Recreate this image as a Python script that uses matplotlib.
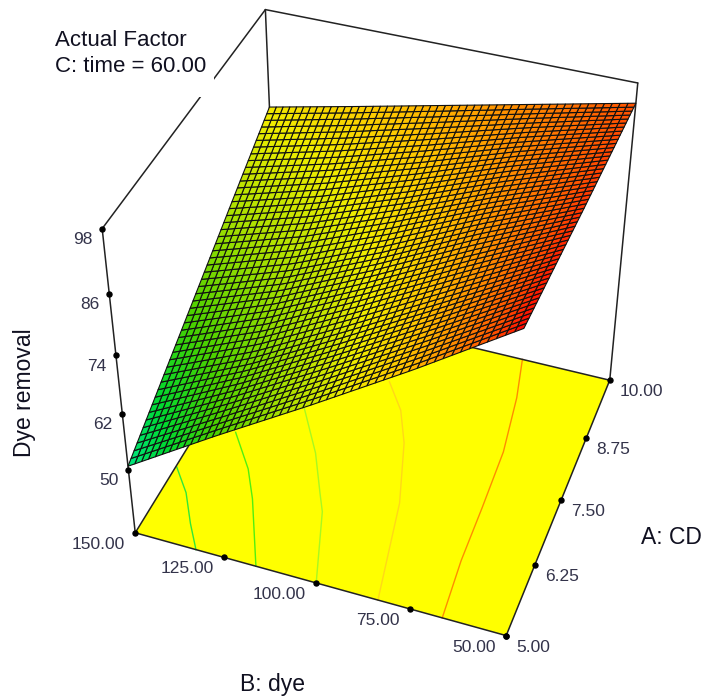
import numpy as np
import matplotlib
matplotlib.use("Agg")
import matplotlib.pyplot as plt
from matplotlib.collections import PolyCollection
from matplotlib.colors import LinearSegmentedColormap
from matplotlib.patches import Rectangle

plt.rcParams["font.family"] = ["Liberation Sans", "DejaVu Sans"]

A_TICKS = [5.00, 6.25, 7.50, 8.75, 10.00]
B_TICKS = [150.00, 125.00, 100.00, 75.00, 50.00]
Z_TICKS = [50, 62, 74, 86, 98]
Z_FLOOR = 35.8

# response, rows follow B_NODES, columns follow A_NODES
A_NODES = [5.00, 6.25, 7.50, 8.75, 10.00]
B_NODES = [50.00, 75.00, 100.00, 125.00, 150.00]
Y_TABLE = [
    [97.8, 96.8, 95.8, 95.0, 94.2],
    [85.5, 86.3, 87.8, 89.2, 90.3],
    [73.8, 76.0, 79.0, 82.7, 86.4],
    [62.5, 66.0, 71.0, 76.8, 82.5],
    [50.8, 57.8, 64.8, 71.8, 78.7],
]

# floor contours as (A, B)
C1_A = [6.3, 5.9, 5.4, 5.0]
C1_B = [149.7, 143.5, 137.9, 132.9]
C2_A = [7.2, 6.6, 6.1, 5.0]
C2_B = [140.1, 131.5, 126.2, 116.3]
C3_A = [8.0, 7.2, 6.5, 6.2, 5.0]
C3_B = [126.3, 116.8, 110.2, 107.3, 99.9]
C4_A = [8.9, 8.4, 7.8, 6.7, 5.2, 5.0]
C4_B = [107.6, 100.8, 95.7, 89.4, 84.1, 83.4]
C5_A = [10.0, 9.2, 8.1, 7.0, 6.0, 5.0]
C5_B = [75.4, 72.3, 69.5, 68.6, 68.0, 66.5]
CONTOURS = [(C1_A, C1_B, "#30e838"), (C2_A, C2_B, "#50f010"), (C3_A, C3_B, "#a8f820"),
            (C4_A, C4_B, "#ffd818"), (C5_A, C5_B, "#ff8c00")]

# camera calibration: box points and where they land in the image, corners counted twice
CALIB = [
    (5, 150, Z_FLOOR, 135, 535), (5, 50, Z_FLOOR, 506, 633), (10, 50, Z_FLOOR, 610, 377),
    (5, 150, Z_FLOOR, 135, 535), (5, 50, Z_FLOOR, 506, 633), (10, 50, Z_FLOOR, 610, 377),
    (5, 150, 98, 101, 233), (10, 150, 98, 266, 11), (10, 50, 98, 639, 82),
    (5, 150, 98, 101, 233), (10, 150, 98, 266, 11), (10, 50, 98, 639, 82),
    (5, 150, 50, 127, 466), (5, 150, 86, 109, 291),
    (5, 150, 74, 115, 349), (5, 150, 62, 121, 408), (5, 125, Z_FLOOR, 227, 560),
    (5, 100, Z_FLOOR, 320, 584), (5, 75, Z_FLOOR, 414, 609), (6.25, 50, Z_FLOOR, 532, 569),
    (7.5, 50, Z_FLOOR, 558, 505), (8.75, 50, Z_FLOOR, 584, 441),
]


def norm(a, b, z):
    return [(a - 5) / 5, (b - 50) / 100, (z - 36) / 62, 1.0]


rows = []
for a, b, z, u, v in CALIB:
    p = norm(a, b, z)
    u, v = u / 700, v / 700
    rows.append(p + [0, 0, 0, 0] + [-u * c for c in p])
    rows.append([0, 0, 0, 0] + p + [-v * c for c in p])
P = np.linalg.svd(np.array(rows))[2][-1].reshape(3, 4)


def project(a, b, z):
    a, b, z = np.asarray(a, float), np.asarray(b, float), np.asarray(z, float)
    q = np.stack([(a - 5) / 5, (b - 50) / 100, (z - 36) / 62, np.ones_like(a)], axis=-1)
    w = q @ P.T
    return 700 * w[..., 0] / w[..., 2], 700 * w[..., 1] / w[..., 2]


cmap = LinearSegmentedColormap.from_list("de", [
    (0.00, "#00e890"), (0.125, "#00d830"), (0.25, "#48d000"), (0.42, "#a8e000"),
    (0.58, "#f0ec00"), (0.71, "#ffc400"), (0.83, "#ff8800"), (0.92, "#ff5400"), (1.00, "#ff0000"),
])

fig = plt.figure(figsize=(7.04, 6.98), dpi=100)
ax = fig.add_axes([0, 0, 1, 1])
ax.set_xlim(0, 704)
ax.set_ylim(698, 0)
ax.axis("off")

LINE = "#222222"
LW = 1.1


def edge(p0, p1, zorder=2, color=LINE, lw=LW):
    x, y = project([p0[0], p1[0]], [p0[1], p1[1]], [p0[2], p1[2]])
    ax.plot(x, y, color=color, lw=lw, zorder=zorder, solid_capstyle="round")


# floor
fx, fy = project([5, 5, 10, 10], [150, 50, 50, 150], [Z_FLOOR] * 4)
ax.fill(fx, fy, color="#ffff00", lw=0, zorder=1)
for ca, cb, col in CONTOURS:
    x, y = project(ca, cb, [Z_FLOOR] * len(ca))
    ax.plot(x, y, color=col, lw=1.0, zorder=1.5)

# box
edge((5, 150, Z_FLOOR), (5, 50, Z_FLOOR))
edge((5, 50, Z_FLOOR), (10, 50, Z_FLOOR))
edge((10, 50, Z_FLOOR), (10, 150, Z_FLOOR))
edge((10, 150, Z_FLOOR), (5, 150, Z_FLOOR))
edge((5, 150, Z_FLOOR), (5, 150, 98))
edge((10, 50, Z_FLOOR), (10, 50, 98))
edge((10, 150, Z_FLOOR), (10, 150, 98))
edge((5, 150, 98), (10, 150, 98))
edge((10, 150, 98), (10, 50, 98))

# surface, the read table is subdivided only to lay the drawn mesh over it
n_a, n_b = 50, 50
a_mesh = np.linspace(A_NODES[0], A_NODES[-1], n_a + 1)
b_mesh = np.linspace(B_NODES[0], B_NODES[-1], n_b + 1)
table = np.array(Y_TABLE)
by_a = np.array([np.interp(a_mesh, A_NODES, row) for row in table])
y_mesh = np.array([np.interp(b_mesh, B_NODES, by_a[:, i]) for i in range(n_a + 1)]).T
aa, bb = np.meshgrid(a_mesh, b_mesh)
sx, sy = project(aa, bb, y_mesh)
polys = []
vals = []
for j in range(n_b):
    for i in range(n_a):
        polys.append([(sx[j, i], sy[j, i]), (sx[j, i + 1], sy[j, i + 1]),
                      (sx[j + 1, i + 1], sy[j + 1, i + 1]), (sx[j + 1, i], sy[j + 1, i])])
        vals.append(y_mesh[j:j + 2, i:i + 2].mean())
pc = PolyCollection(polys, array=np.array(vals), cmap=cmap, edgecolors="#101010",
                    linewidths=0.8, zorder=3)
pc.set_clim(50, 98)
ax.add_collection(pc)

# ticks and labels
TICK = dict(color="black", marker="o", ms=3.6, ls="none", zorder=4)
TXT = dict(fontsize=12.5, color="#33334a", va="center")
x, y = project([5] * 5, [150] * 5, Z_TICKS)
ax.plot(x, y, **TICK)
for xi, yi, z in zip(x, y, Z_TICKS):
    ax.text(xi - 10, yi + 11, str(z), ha="right", **TXT)
x, y = project([5] * 5, B_TICKS, [Z_FLOOR] * 5)
ax.plot(x, y, **TICK)
for xi, yi, b in zip(x, y, B_TICKS):
    ax.text(xi - 10, yi + 11.5, "%.2f" % b, ha="right", **TXT)
x, y = project(A_TICKS, [50] * 5, [Z_FLOOR] * 5)
ax.plot(x, y, **TICK)
for xi, yi, a in zip(x, y, A_TICKS):
    ax.text(xi + 10, yi + 11.5, "%.2f" % a, ha="left", **TXT)

ax.add_patch(Rectangle((50, 25), 164, 72, color="white", zorder=2.5, lw=0))
ax.text(55, 41, "Actual Factor", fontsize=16, color="#101020", va="center", zorder=5)
ax.text(55, 66, "C: time = 60.00", fontsize=16, color="#101020", va="center", zorder=5)
ax.text(24, 393, "Dye removal", fontsize=16.5, color="#101020", rotation=90, ha="center", va="center")
ax.text(272, 684, "B: dye", fontsize=16.5, color="#101020", ha="center", va="center")
ax.text(641, 538, "A: CD", fontsize=16.5, color="#101020", ha="left", va="center")

fig.savefig("out.png", dpi=100)
